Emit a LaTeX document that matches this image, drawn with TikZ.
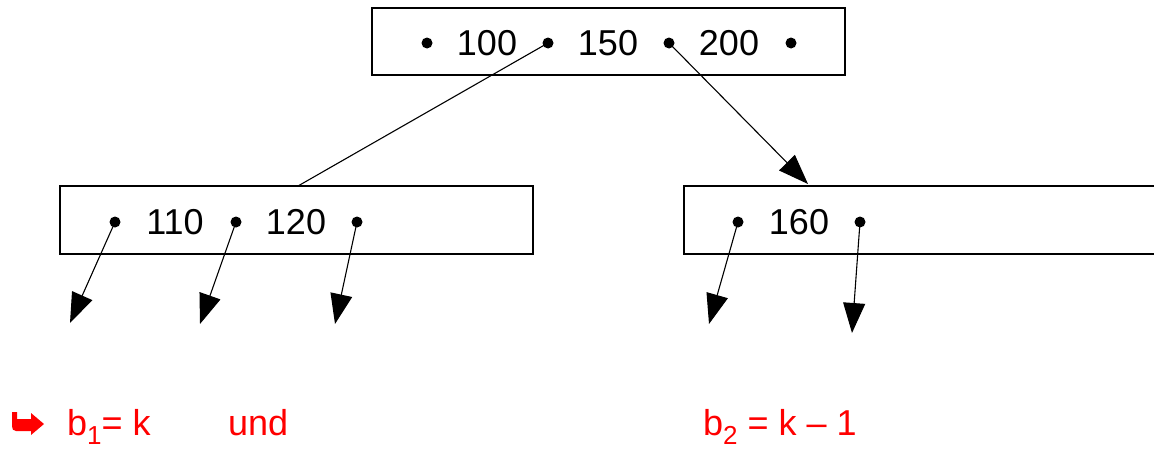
\documentclass[tikz,border=0pt]{standalone}
\usepackage{fontspec}
\setmainfont{Liberation Sans}
\usetikzlibrary{arrows.meta}
\newcommand{\lowsub}[1]{{\fontsize{26}{28}\selectfont\raisebox{-9pt}{#1}}}
\begin{document}
\begin{tikzpicture}[x=1pt,y=-1pt,
  box/.style={draw,line width=1.3pt},
  ptr/.style={circle,fill,inner sep=0pt,minimum size=11pt},
  key/.style={font=\fontsize{36}{40}\selectfont,inner sep=0pt,anchor=base},
  conn/.style={line width=1.1pt},
  arr/.style={line width=1.1pt,-{Triangle[length=30pt,width=22pt]}},
  redtxt/.style={text=red,font=\fontsize{36}{40}\selectfont,inner sep=0pt,anchor=base west}]
\useasboundingbox (0,0) rectangle (1154,450);
% top node
\draw[box] (372,8) rectangle (845,75);
\node[ptr] (t0) at (427,43) {};
\node[ptr] (t1) at (548,43) {};
\node[ptr] (t2) at (669,43) {};
\node[ptr] (t3) at (791,43) {};
\node[key] (k100) at (487,55) {100};
\node[key] (k150) at (608,55) {150};
\node[key] (k200) at (729,55) {200};
% left node
\draw[box] (60,186) rectangle (533,254);
\coordinate (ltop) at (298,186);
\node[ptr] (l0) at (115,222) {};
\node[ptr] (l1) at (236,222) {};
\node[ptr] (l2) at (357,222) {};
\node[key] (k110) at (175,234) {110};
\node[key] (k120) at (296,234) {120};
% right node
\draw[box] (684,186) rectangle (1170,254);
\coordinate (rtop) at (808,184);
\node[ptr] (r0) at (738,222) {};
\node[ptr] (r1) at (860,222) {};
\node[key] (k160) at (799,234) {160};
% connectors
\draw[conn] (t1.center) -- (ltop);
\draw[arr] (t2.center) -- (rtop);
\coordinate (e0) at (70,323);
\coordinate (e1) at (200,324);
\coordinate (e2) at (335,324);
\coordinate (e3) at (709,324);
\coordinate (e4) at (852,333);
\draw[arr] (l0.center) -- (e0);
\draw[arr] (l1.center) -- (e1);
\draw[arr] (l2.center) -- (e2);
\draw[arr] (r0.center) -- (e3);
\draw[arr] (r1.center) -- (e4);
% red text
\fill[red] (12,412) -- (17,412) -- (17,419) -- (31,419) -- (31,413) -- (44,424) -- (31,435) -- (31,431) -- (16,431) .. controls (13,431) and (12,429) .. (12,426) -- cycle;
\node[redtxt] (b1) at (67,435) {b\lowsub{1}= k};
\node[redtxt] (und) at (228,435) {und};
\node[redtxt] (b2) at (703,435) {b\lowsub{2} = k – 1};
\end{tikzpicture}
\end{document}
